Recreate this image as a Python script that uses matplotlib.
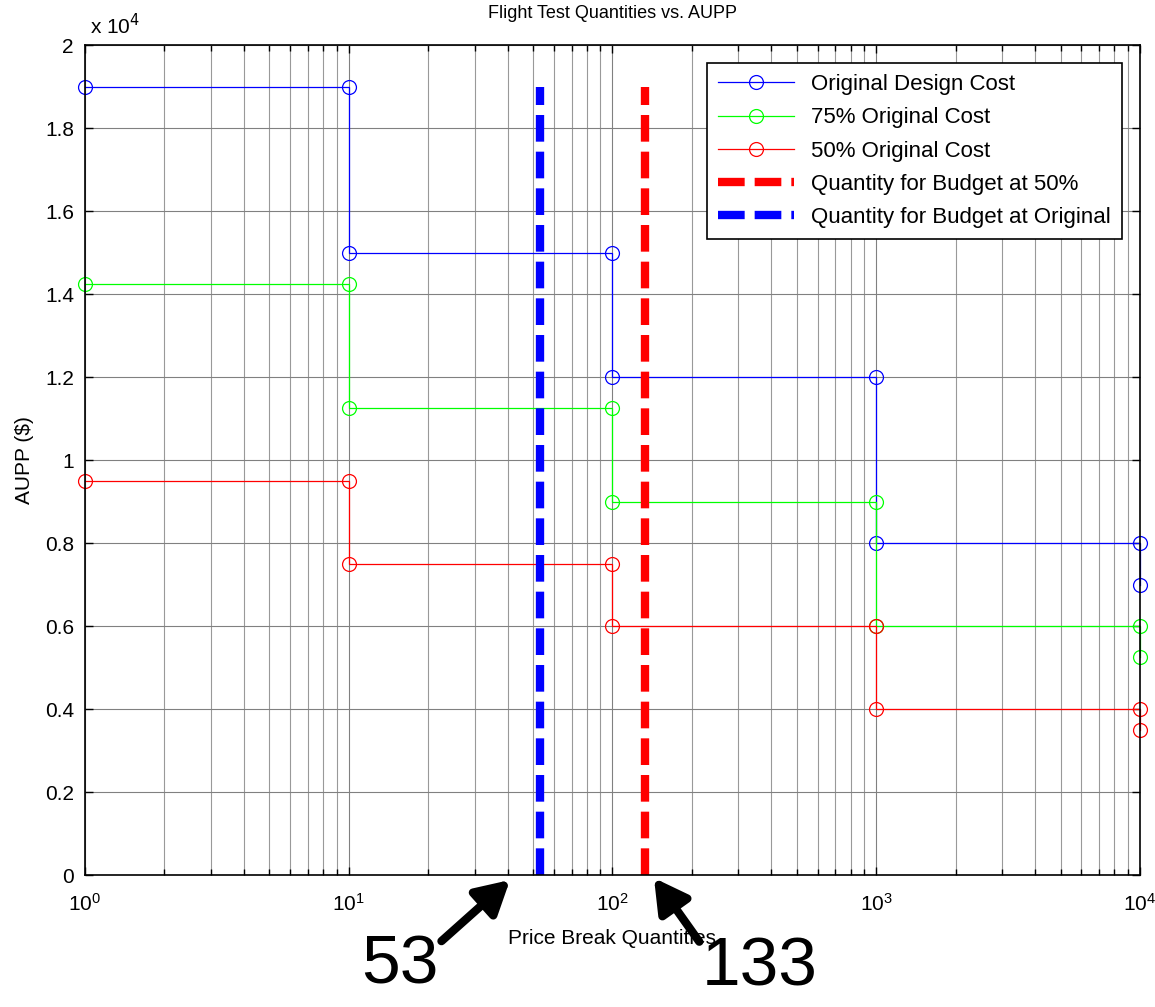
import matplotlib.pyplot as plt
import numpy as np
from matplotlib.ticker import FuncFormatter, LogLocator, NullFormatter

plt.rcParams["font.family"] = ["Liberation Sans", "DejaVu Sans"]

# price break step curves
qty = [1, 10, 10, 100, 100, 1000, 1000, 10000, 10000]
orig_cost = [19000, 19000, 15000, 15000, 12000, 12000, 8000, 8000, 7000]
cost_75 = [14250, 14250, 11250, 11250, 9000, 9000, 6000, 6000, 5250]
cost_50 = [9500, 9500, 7500, 7500, 6000, 6000, 4000, 4000, 3500]

budget_qty_50 = 133
budget_qty_orig = 53
budget_line_top = 19000

fig = plt.figure(figsize=(11.55, 10.07), dpi=100)
ax = fig.add_axes([0.0736, 0.131, 0.9134, 0.824])

step_style = dict(lw=0.9, marker="o", ms=10, mfc="none", mew=0.9, clip_on=False)
ax.plot(qty, orig_cost, color="blue", label="Original Design Cost", **step_style)
ax.plot(qty, cost_75, color="#00ff00", label="75% Original Cost", **step_style)
ax.plot(qty, cost_50, color="red", label="50% Original Cost", **step_style)
ax.plot([budget_qty_50, budget_qty_50], [0, budget_line_top], color="red",
        lw=6, dashes=(3.2, 1.2), label="Quantity for Budget at 50%")
ax.plot([budget_qty_orig, budget_qty_orig], [0, budget_line_top], color="blue",
        lw=6, dashes=(3.2, 1.2), label="Quantity for Budget at Original")

ax.set_xscale("log")
ax.set_xlim(1, 10000)
ax.set_ylim(0, 20000)
ax.set_yticks(np.arange(0, 20001, 2000))
ax.yaxis.set_major_formatter(FuncFormatter(lambda v, p: f"{v / 1e4:g}"))
ax.xaxis.set_minor_locator(LogLocator(base=10, subs=np.arange(2, 10)))
ax.xaxis.set_minor_formatter(NullFormatter())

ax.grid(True, which="major", color="0.5", lw=0.8)
ax.grid(True, which="minor", axis="x", color="0.6", lw=0.8)
ax.set_axisbelow(True)

ax.tick_params(which="both", direction="in", top=True, right=True,
               labelsize=15, width=1)
ax.tick_params(which="major", length=6)
ax.tick_params(which="minor", length=4)
ax.tick_params(axis="x", pad=13)
ax.tick_params(axis="y", pad=8)
for s in ax.spines.values():
    s.set_linewidth(1.2)

ax.text(0.005, 1.008, r"x 10$^{4}$", transform=ax.transAxes, fontsize=15,
        ha="left", va="bottom")
ax.set_title("Flight Test Quantities vs. AUPP", fontsize=13, pad=20)
ax.set_xlabel("Price Break Quantities", fontsize=15, labelpad=10)
ax.set_ylabel("AUPP (\\$)", fontsize=15, labelpad=8)

leg = ax.legend(loc="upper right", fontsize=16, fancybox=False,
                edgecolor="black", framealpha=1, borderaxespad=0.8,
                handlelength=3.4, labelspacing=0.55, borderpad=0.5)
leg.get_frame().set_linewidth(1.2)

# callouts below the axis
arrow = dict(arrowstyle="-|>,head_length=0.9,head_width=0.5", lw=6,
             color="black", shrinkA=0, shrinkB=0, mutation_scale=22)
ax.annotate("53", xy=(510 / 1155, 1 - 880 / 1007), xycoords="figure fraction",
            xytext=(400 / 1155, 1 - 966 / 1007), textcoords="figure fraction",
            fontsize=50, ha="center", va="center",
            arrowprops=dict(arrow, relpos=(1.0, 0.85)))
ax.annotate("133", xy=(654 / 1155, 1 - 878 / 1007), xycoords="figure fraction",
            xytext=(760 / 1155, 1 - 968 / 1007), textcoords="figure fraction",
            fontsize=50, ha="center", va="center",
            arrowprops=dict(arrow, relpos=(0.0, 0.85)))

fig.savefig("out.png", dpi=100)
